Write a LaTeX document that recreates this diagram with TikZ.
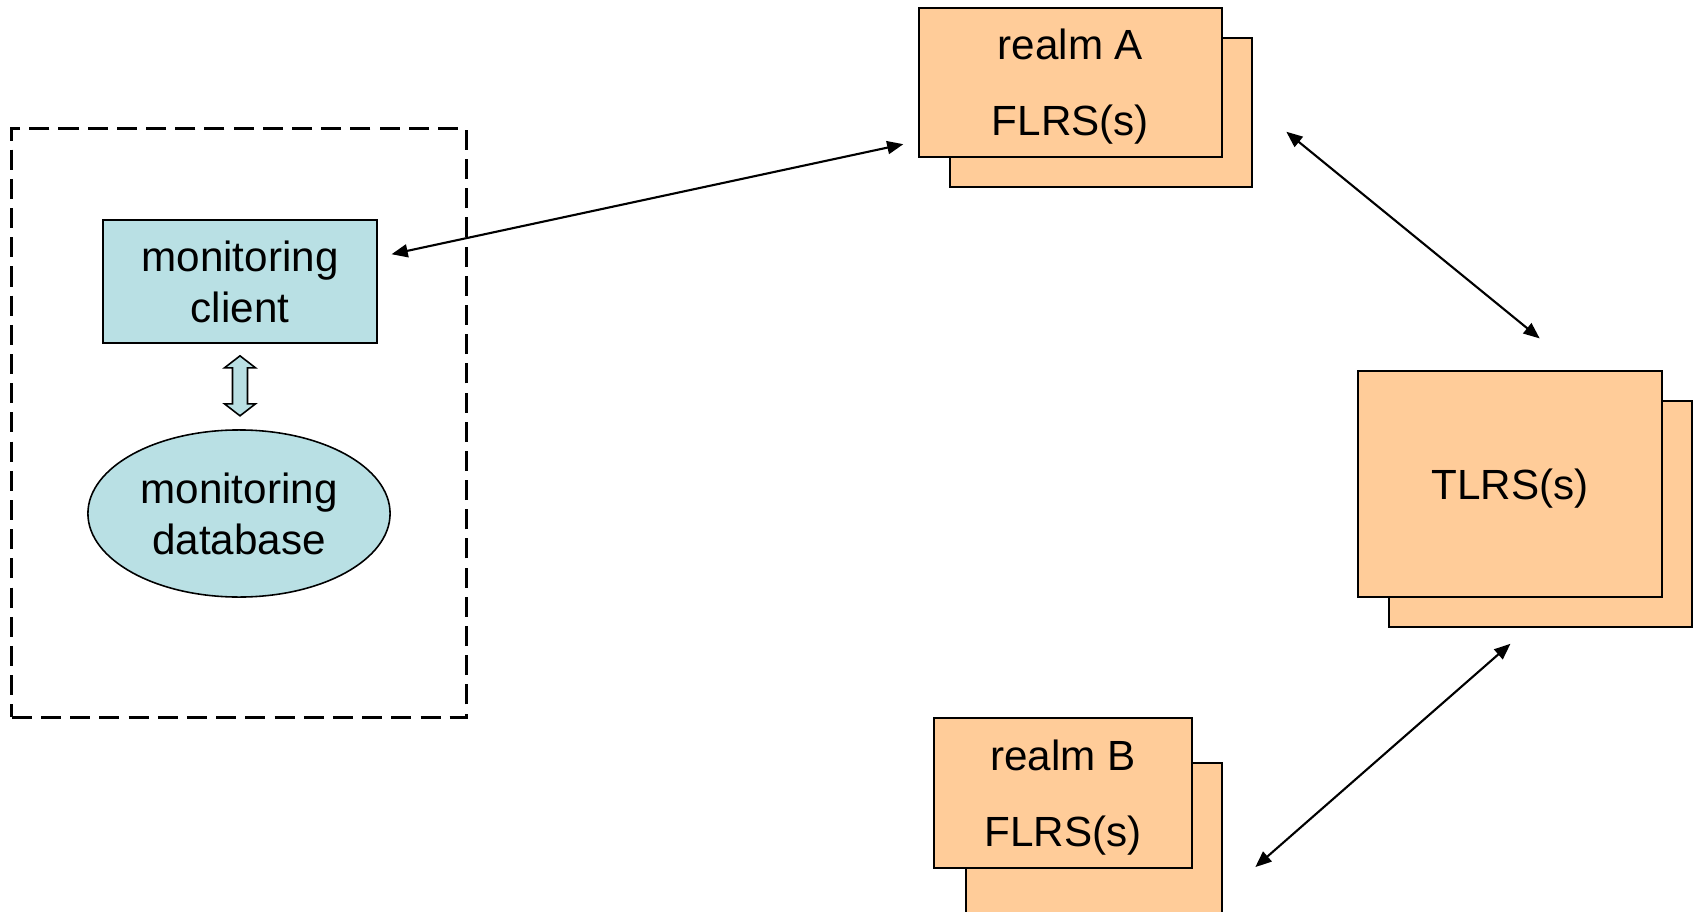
\documentclass[tikz,border=0pt]{standalone}
\usepackage{fontspec}
\setmainfont{Liberation Sans}
\usetikzlibrary{arrows.meta,calc,shapes.geometric}
\definecolor{peach}{RGB}{255,204,153}
\definecolor{paleteal}{RGB}{185,224,228}
\tikzstyle{stackbox}=[draw,fill=peach,line width=0.5pt,align=center,inner sep=0pt]
\tikzstyle{monitor}=[draw,fill=paleteal,line width=0.45pt,align=center,inner sep=0pt]
\tikzstyle{link}=[{Triangle[length=4.6pt,width=3.7pt]}-{Triangle[length=4.6pt,width=3.7pt]},line width=0.6pt]

\begin{document}
\begin{tikzpicture}[x=0.01cm,y=-0.01cm,font=\fontsize{12}{14.5}\selectfont]
            \useasboundingbox (0,0) rectangle (1696,912);
            % monitoring side
            \node[draw,dash pattern=on 5.7pt off 2.6pt,line width=0.8pt,
                minimum width=4.54cm,minimum height=5.88cm] (site) at (239,423) {};
            \node[monitor,minimum width=2.74cm,minimum height=1.23cm]
                (client) at (240,281.5) {monitoring\\client};
            \node[monitor,ellipse,minimum width=3.02cm,minimum height=1.67cm]
                (db) at (239,513.5) {monitoring\\database};
            \draw[fill=paleteal,line width=0.45pt]
                ($(client.south)+(0,12)$) -- ++(15.5,12) -- ++(-8,0) -- ++(0,36)
                -- ++(8,0) -- ++(-15.5,12) -- ++(-15.5,-12) -- ++(8,0)
                -- ++(0,-36) -- ++(-8,0) -- cycle;
            % realm and top level servers
            \node[stackbox,minimum width=3.02cm,minimum height=1.49cm] (realmAback) at (1101,112.5) {};
            \node[stackbox,minimum width=3.03cm,minimum height=1.49cm,text depth=-0.2pt] (realmA) at (1070.5,82.5) {realm A\\[7pt]FLRS(s)};
            \node[stackbox,minimum width=3.03cm,minimum height=2.26cm] (TLRSback) at (1540.5,514) {};
            \node[stackbox,minimum width=3.04cm,minimum height=2.26cm,text height=11.4pt] (TLRS) at (1510,484) {TLRS(s)};
            \node[stackbox,minimum width=2.56cm,minimum height=1.50cm] (realmBback) at (1094,838) {};
            \node[stackbox,minimum width=2.58cm,minimum height=1.50cm,text depth=-0.2pt] (realmB) at (1063,793) {realm B\\[7pt]FLRS(s)};
            % links
            \draw[link,shorten <=0.14cm,shorten >=0.15cm] (client.10.9) -- (realmA.-159);
            \draw[link,shorten <=0.43cm,shorten >=0.5cm] (realmAback.3.2) -- (TLRS.59.3);
            \draw[link,shorten <=0.24cm,shorten >=0.43cm] (TLRSback.-96.3) -- (realmBback.-24.7);
        \end{tikzpicture}
\end{document}
